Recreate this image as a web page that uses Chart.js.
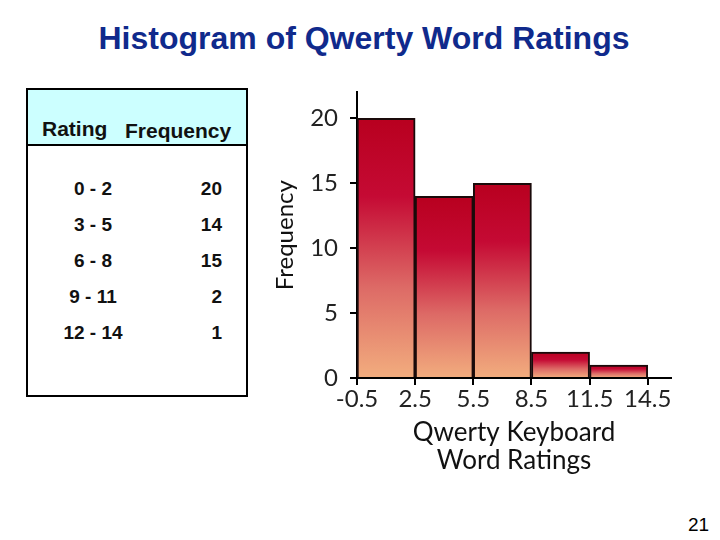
<!DOCTYPE html>
<html>
<head>
<meta charset="utf-8">
<script src="https://cdn.jsdelivr.net/npm/chart.js@4.4.1/dist/chart.umd.min.js"></script>
<style>
  body { margin: 0; width: 720px; height: 540px; background: #fff; position: relative; overflow: hidden; font-family: "Liberation Sans", Arial, sans-serif; }
  #title { position: absolute; left: 0; width: 728px; top: 20px; text-align: center; color: #102a8c; font-weight: bold; font-size: 32px; }
  #table { position: absolute; left: 26px; top: 88px; width: 218px; height: 305px; border: 2px solid #000; }
  #head { position: absolute; left: 0; top: 0; width: 218px; height: 54px; background: #ccffff; border-bottom: 2px solid #000; font-weight: bold; font-size: 21px; color: #111; }
  .cell { position: absolute; font-weight: bold; font-size: 19px; color: #111; }
  #page { position: absolute; left: 688px; top: 514px; font-size: 19px; color: #000; }
  #wrap { position: absolute; left: 255px; top: 66px; width: 440px; height: 419px; }
</style>
</head>
<body>
<div id="title">Histogram of Qwerty Word Ratings</div>
<div id="table"><div id="head"></div></div>
<div id="wrap"><canvas id="histChart"></canvas></div>
<div id="page">21</div>
<script>
// table labels and bin data
let ratings = ["0 - 2", "3 - 5", "6 - 8", "9 - 11", "12 - 14"];
let binCenters = [1, 4, 7, 10, 13];
let frequencies = [20, 14, 15, 2, 1];
let xTicks = [-0.5, 2.5, 5.5, 8.5, 11.5, 14.5];
let yTicks = [0, 5, 10, 15, 20];

// build the table on the left
let head = document.getElementById("head");
head.innerHTML = '<span style="position:absolute;left:14px;top:27px">Rating</span>' +
    '<span style="position:absolute;left:97px;top:29px">Frequency</span>';
let table = document.getElementById("table");
ratings.forEach((r, i) => {
    let a = document.createElement("div");
    a.className = "cell";
    a.style.left = "0px";
    a.style.width = "130px";
    a.style.textAlign = "center";
    a.style.top = (88 + i * 36) + "px";
    a.textContent = r;
    table.appendChild(a);
    let b = document.createElement("div");
    b.className = "cell";
    b.style.left = "100px";
    b.style.width = "94px";
    b.style.textAlign = "right";
    b.style.top = (88 + i * 36) + "px";
    b.textContent = frequencies[i];
    table.appendChild(b);
});

function barGradient(ctx) {
    let chart = ctx.chart;
    if (ctx.type !== "data" || !chart.chartArea || !chart.scales.y) return "#c00024";
    let y = chart.scales.y;
    let top = y.getPixelForValue(ctx.parsed.y);
    let bottom = y.getPixelForValue(0);
    if (!isFinite(top) || !isFinite(bottom)) return "#c00024";
    let g = chart.ctx.createLinearGradient(0, top, 0, bottom);
    g.addColorStop(0, "#b8001f");
    g.addColorStop(0.3, "#c50a34");
    g.addColorStop(0.65, "#dd6a66");
    g.addColorStop(1, "#f2ad7e");
    return g;
}

const tickFont = { family: "Lato, 'DejaVu Sans', sans-serif", size: 24 };

new Chart(document.getElementById("histChart"), {
    type: "bar",
    data: {
        datasets: [{
            data: binCenters.map((c, i) => ({ x: c, y: frequencies[i] })),
            backgroundColor: barGradient,
            borderColor: "#1a0a0a",
            borderWidth: 2,
            barPercentage: 1,
            categoryPercentage: 1
        }]
    },
    options: {
        responsive: true,
        maintainAspectRatio: false,
        animation: false,
        layout: { padding: { top: 0, right: 24, left: 0, bottom: 0 } },
        plugins: { legend: { display: false }, tooltip: { enabled: false } },
        scales: {
            x: {
                type: "linear",
                offset: false,
                min: -0.5,
                max: 15.7,
                afterBuildTicks: s => { s.ticks = xTicks.map(v => ({ value: v })); },
                afterFit: s => { s.height = 107; },
                grid: { drawOnChartArea: false, drawTicks: true, tickLength: 7, color: "#000", lineWidth: 2, offset: false },
                border: { color: "#000", width: 2 },
                ticks: { font: tickFont, color: "#222", padding: 0, maxRotation: 0, autoSkip: false },
                title: {
                    display: true,
                    text: ["Qwerty Keyboard", "Word Ratings"],
                    font: { family: "Lato, 'DejaVu Sans', sans-serif", size: 26, lineHeight: 1.077 },
                    color: "#111",
                    padding: { top: 0, bottom: 10 }
                }
            },
            y: {
                min: 0,
                max: 22,
                afterBuildTicks: s => { s.ticks = yTicks.map(v => ({ value: v })); },
                afterFit: s => { s.width = 102; },
                grid: { drawOnChartArea: false, drawTicks: true, tickLength: 7, color: "#000", lineWidth: 2 },
                border: { color: "#000", width: 2 },
                ticks: { font: tickFont, color: "#222", padding: 12 },
                title: {
                    display: true,
                    text: "Frequency",
                    font: { family: "Lato, 'DejaVu Sans', sans-serif", size: 24, lineHeight: 1.2 },
                    color: "#111",
                    padding: { top: 16, bottom: 0 }
                }
            }
        }
    }
});
</script>
</body>
</html>
